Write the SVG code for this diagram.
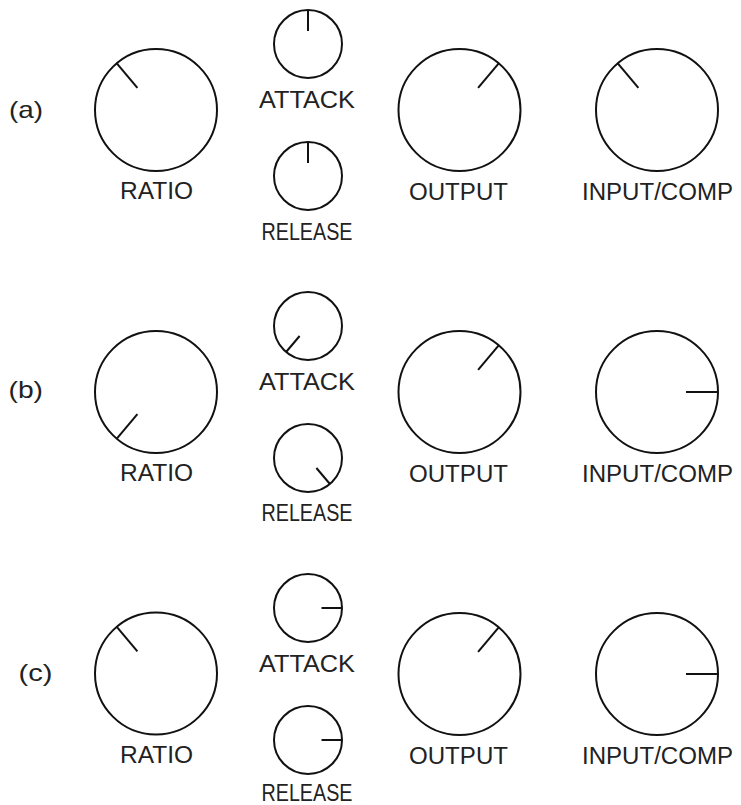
<svg xmlns="http://www.w3.org/2000/svg" width="741" height="805" viewBox="0 0 741 805">
<style>
.k{fill:none;stroke:#111;stroke-width:2}
.p{stroke:#111;stroke-width:2;stroke-linecap:butt}
.t{font-family:"Liberation Sans",Arial,sans-serif;font-size:23px;fill:#222;text-anchor:middle}
.r{font-family:"Liberation Sans",Arial,sans-serif;font-size:24px;fill:#222}
</style>
<rect width="741" height="805" fill="#fff"/>
<g id="row-a">
  <text class="r" x="9" y="118" textLength="34" lengthAdjust="spacingAndGlyphs">(a)</text>
  <g id="a-ratio"><circle class="k" cx="156" cy="110" r="61"/><line class="p" x1="137.4" y1="87.8" x2="116.8" y2="63.3"/><text class="t" x="156.5" y="199" textLength="73" lengthAdjust="spacingAndGlyphs">RATIO</text></g>
  <g id="a-attack"><circle class="k" cx="308" cy="44" r="34"/><line class="p" x1="308" y1="31" x2="308" y2="10"/><text class="t" x="307" y="108" textLength="96" lengthAdjust="spacingAndGlyphs">ATTACK</text></g>
  <g id="a-release"><circle class="k" cx="308" cy="176" r="34"/><line class="p" x1="308" y1="163" x2="308" y2="142"/><text class="t" x="307" y="239.5" textLength="91" lengthAdjust="spacingAndGlyphs">RELEASE</text></g>
  <g id="a-output"><circle class="k" cx="459.5" cy="110" r="61"/><line class="p" x1="478.1" y1="87.8" x2="498.7" y2="63.3"/><text class="t" x="458.5" y="200" textLength="99" lengthAdjust="spacingAndGlyphs">OUTPUT</text></g>
  <g id="a-input"><circle class="k" cx="657" cy="110" r="61"/><line class="p" x1="638.4" y1="87.8" x2="617.8" y2="63.3"/><text class="t" x="657.5" y="200" textLength="151" lengthAdjust="spacingAndGlyphs">INPUT/COMP</text></g>
</g>
<g id="row-b">
  <text class="r" x="8.5" y="398" textLength="34.5" lengthAdjust="spacingAndGlyphs">(b)</text>
  <g id="b-ratio"><circle class="k" cx="156" cy="392" r="61"/><line class="p" x1="137.4" y1="414.2" x2="116.8" y2="438.7"/><text class="t" x="156.5" y="481" textLength="73" lengthAdjust="spacingAndGlyphs">RATIO</text></g>
  <g id="b-attack"><circle class="k" cx="308" cy="326" r="34"/><line class="p" x1="299.6" y1="336" x2="286.1" y2="352"/><text class="t" x="307" y="390" textLength="96" lengthAdjust="spacingAndGlyphs">ATTACK</text></g>
  <g id="b-release"><circle class="k" cx="308" cy="458" r="34"/><line class="p" x1="316.4" y1="468" x2="329.9" y2="484"/><text class="t" x="307" y="521" textLength="91" lengthAdjust="spacingAndGlyphs">RELEASE</text></g>
  <g id="b-output"><circle class="k" cx="459.5" cy="392" r="61"/><line class="p" x1="478.1" y1="369.8" x2="498.7" y2="345.3"/><text class="t" x="458.5" y="482" textLength="99" lengthAdjust="spacingAndGlyphs">OUTPUT</text></g>
  <g id="b-input"><circle class="k" cx="657" cy="392" r="61"/><line class="p" x1="686" y1="392" x2="718" y2="392"/><text class="t" x="657.5" y="482" textLength="151" lengthAdjust="spacingAndGlyphs">INPUT/COMP</text></g>
</g>
<g id="row-c">
  <text class="r" x="18.5" y="681" textLength="34" lengthAdjust="spacingAndGlyphs">(c)</text>
  <g id="c-ratio"><circle class="k" cx="156" cy="673.5" r="61"/><line class="p" x1="137.4" y1="651.3" x2="116.8" y2="626.8"/><text class="t" x="156.5" y="763" textLength="73" lengthAdjust="spacingAndGlyphs">RATIO</text></g>
  <g id="c-attack"><circle class="k" cx="308" cy="608" r="34"/><line class="p" x1="321.5" y1="608" x2="342" y2="608"/><text class="t" x="307" y="672" textLength="96" lengthAdjust="spacingAndGlyphs">ATTACK</text></g>
  <g id="c-release"><circle class="k" cx="308" cy="740" r="34"/><line class="p" x1="321.5" y1="740" x2="342" y2="740"/><text class="t" x="307" y="801" textLength="91" lengthAdjust="spacingAndGlyphs">RELEASE</text></g>
  <g id="c-output"><circle class="k" cx="459.5" cy="674" r="61"/><line class="p" x1="478.1" y1="651.8" x2="498.7" y2="627.3"/><text class="t" x="458.5" y="764" textLength="99" lengthAdjust="spacingAndGlyphs">OUTPUT</text></g>
  <g id="c-input"><circle class="k" cx="657" cy="674" r="61"/><line class="p" x1="686" y1="674" x2="718" y2="674"/><text class="t" x="657.5" y="764" textLength="151" lengthAdjust="spacingAndGlyphs">INPUT/COMP</text></g>
</g>
<g id="connectors"/>
</svg>
